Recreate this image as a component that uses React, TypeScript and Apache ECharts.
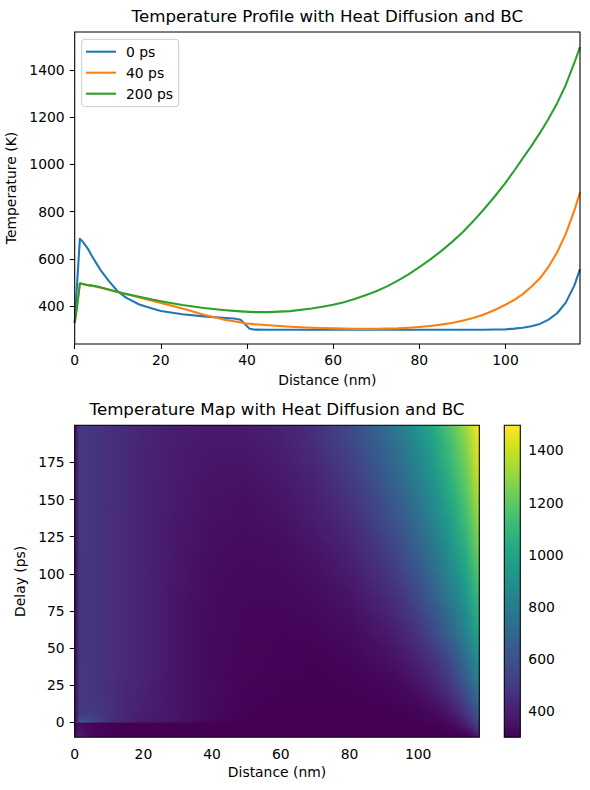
import React, { useEffect, useRef } from "react";
import * as echarts from "echarts";

const FONT = "DejaVu Sans";
const PROFILE_TITLE = "Temperature Profile with Heat Diffusion and BC";
const MAP_TITLE = "Temperature Map with Heat Diffusion and BC";
const X_LABEL = "Distance (nm)";
const T_LABEL = "Temperature (K)";
const DELAY_LABEL = "Delay (ps)";
const SERIES_NAMES = ["0 ps", "40 ps", "200 ps"];
const SERIES_COLORS = ["#1f77b4", "#ff7f0e", "#2ca02c"];

// Profile chart (top)
const PROFILE_X = [0, 0.5, 1.2, 2, 3, 4, 5, 6, 8, 10, 12, 15, 18, 20, 25, 30, 35, 37, 38.5, 39.5, 40.5, 41.5, 45, 50, 55, 57.5, 60, 62.5, 65, 67.5, 70, 72.5, 75, 77.5, 80, 82.5, 85, 87.5, 90, 92.5, 95, 97.5, 100, 102, 104, 106, 108, 110, 112, 114, 116, 117.3];
const PROFILE_0PS = [330, 478, 685, 670, 645, 612, 582, 553, 505, 462, 435, 407, 390, 380, 366, 357, 350, 348, 343, 325, 306, 301, 300, 300, 300, 300, 300, 300, 300, 300, 300, 300, 300, 300, 300, 300, 300, 300, 300, 300, 300.5, 301, 302, 305, 309, 315, 325, 343, 370, 415, 488, 557];
const PROFILE_40PS = [330, 392, 496, 493, 489, 486, 482, 478, 470, 460, 451, 437, 423, 414, 390, 364, 342, 336, 331, 328, 326, 324, 319, 313, 309, 307.5, 306, 305, 304, 304, 304, 305, 306, 308.5, 312, 316.5, 322, 329, 338, 350, 365, 384, 406, 426, 451, 482, 518, 567, 628, 706, 805, 882];
const PROFILE_200PS = [330, 392, 497, 494, 490, 487, 484, 480, 470, 460, 452, 440, 428, 421, 405, 392, 383, 380, 378, 377, 376, 375, 375, 379, 390, 397.5, 406, 417, 430, 446, 463, 484, 508, 535, 565, 597, 632, 670, 712, 759, 810, 864, 922, 972, 1025, 1077, 1133, 1193, 1259, 1336, 1430, 1496];

const PROFILE_X_MAX = 117.3;
const PROFILE_Y_MIN = 240;
const PROFILE_Y_MAX = 1560;
const PROFILE_X_TICKS = [0, 20, 40, 60, 80, 100];
const PROFILE_Y_TICKS = [400, 600, 800, 1000, 1200, 1400];

// Temperature map (bottom)
const MAP_X = [0, 1.5, 5, 10, 15, 20, 30, 40, 50, 60, 70, 80, 90, 95, 100, 105, 110, 114, 117.8];
const MAP_DELAYS = [-10, -8, -5, -1, 0, 1.5, 5, 10, 20, 30, 40, 50, 60, 70, 80, 90, 100, 110, 120, 130, 140, 150, 160, 170, 180, 190, 200];
const MAP_TEMPS = [
  [330, 400, 315, 300, 300, 300, 300, 300, 300, 300, 300, 300, 300, 300, 300, 300, 300, 300, 300],
  [330, 385, 318, 302, 300, 300, 300, 300, 300, 300, 300, 300, 300, 300, 300, 300, 300, 310, 417],
  [330, 360, 315, 303, 300, 300, 300, 300, 300, 300, 300, 300, 300, 300, 300, 300, 308, 349, 484],
  [330, 340, 310, 302, 300, 300, 300, 300, 300, 300, 300, 300, 300, 300, 300, 306, 329, 399, 550],
  [330, 685, 582, 462, 407, 380, 357, 306, 300, 300, 300, 300, 300, 300.5, 302, 312, 343, 415, 570],
  [330, 580, 545, 468, 415, 385, 358, 315, 301, 300, 300, 300, 300, 300, 303, 312, 346, 429, 580],
  [330, 520, 505, 465, 422, 392, 360, 322, 303, 300, 300, 300, 300, 302, 307, 322, 369, 465, 620],
  [330, 500, 487, 462, 428, 400, 362, 326, 306, 301, 300, 300, 302, 306, 315, 340, 406, 511, 669],
  [330, 497, 484, 461, 433, 408, 364, 328, 309, 303, 302, 302, 309, 319, 340, 385, 474, 593, 752],
  [330, 496, 483, 460, 435, 411, 364, 327, 311, 305, 304, 306, 320, 338, 370, 432, 536, 662, 822],
  [330, 495, 482, 460, 437, 414, 364, 326, 313, 306, 304, 312, 338, 365, 406, 466, 567, 706, 890],
  [330, 495, 482, 460, 437, 414, 364, 327, 315, 309, 308, 320, 353, 385, 437, 520, 635, 770, 945],
  [330, 495, 482, 460, 437, 414, 364, 327, 316, 311, 316, 330, 371, 414, 476, 567, 693, 826, 995],
  [330, 495, 482, 460, 437, 414, 364, 328, 317, 315, 321, 340, 393, 442, 513, 607, 738, 873, 1043],
  [330, 495, 482, 460, 437, 413, 364, 329, 318, 319, 329, 355, 417, 470, 549, 649, 782, 917, 1088],
  [330, 495, 482, 460, 437, 413, 365, 332, 322, 323, 336, 369, 441, 499, 581, 686, 823, 957, 1130],
  [330, 495, 482, 460, 437, 412, 367, 334, 326, 328, 346, 383, 465, 529, 616, 724, 863, 996, 1170],
  [330, 495, 482, 460, 437, 412, 369, 337, 329, 333, 355, 399, 489, 559, 647, 760, 901, 1034, 1210],
  [330, 496, 483, 460, 438, 414, 370, 341, 332, 338, 366, 416, 511, 588, 676, 794, 937, 1069, 1248],
  [330, 496, 483, 460, 438, 413, 371, 346, 337, 347, 379, 433, 539, 617, 708, 828, 971, 1103, 1285],
  [330, 496, 483, 460, 438, 414, 374, 350, 342, 355, 390, 452, 564, 644, 739, 861, 1005, 1136, 1320],
  [330, 496, 483, 460, 439, 414, 378, 353, 347, 363, 402, 472, 589, 672, 771, 892, 1038, 1169, 1355],
  [330, 496, 484, 460, 439, 415, 380, 358, 353, 371, 414, 490, 614, 698, 800, 922, 1068, 1200, 1388],
  [330, 497, 484, 460, 439, 417, 383, 362, 360, 381, 428, 508, 639, 724, 828, 951, 1099, 1229, 1420],
  [330, 497, 484, 460, 440, 418, 385, 368, 367, 391, 442, 527, 663, 748, 856, 979, 1129, 1258, 1452],
  [330, 497, 484, 460, 440, 420, 387, 373, 374, 401, 457, 545, 687, 773, 883, 1008, 1157, 1287, 1475],
  [330, 497, 484, 460, 440, 421, 392, 376, 379, 406, 463, 565, 712, 810, 922, 1051, 1193, 1336, 1496],
];
const MAP_X_MAX = 117.8;
const MAP_Y_MIN = -10;
const MAP_Y_MAX = 200;
const MAP_X_TICKS = [0, 20, 40, 60, 80, 100];
const MAP_Y_TICKS = [0, 25, 50, 75, 100, 125, 150, 175];

// Colour bar
const C_MIN = 300;
const C_MAX = 1496;
const CBAR_TICKS = [400, 600, 800, 1000, 1200, 1400];
const VIRIDIS = ["#440154", "#481a6c", "#472f7d", "#414487", "#39568c", "#31688e", "#2a788e", "#23888e", "#1f988b", "#22a884", "#35b779", "#54c568", "#7ad151", "#a5db36", "#d2e21b", "#fde725"];

// Layout
const G_PROFILE = { left: 74.7, top: 32, width: 505.3, height: 312 };
const G_MAP = { left: 74.7, top: 425.3, width: 404.6, height: 312 };
const G_CBAR = { left: 504.3, top: 425.3, width: 16, height: 312 };

function hexRgb(h: string) {
  return [parseInt(h.slice(1, 3), 16), parseInt(h.slice(3, 5), 16), parseInt(h.slice(5, 7), 16)];
}
const VIRIDIS_RGB = VIRIDIS.map(hexRgb);
function viridis(t: number) {
  const c = Math.max(0, Math.min(1, t)) * (VIRIDIS_RGB.length - 1);
  const i = Math.min(VIRIDIS_RGB.length - 2, Math.floor(c));
  const f = c - i;
  const a = VIRIDIS_RGB[i];
  const b = VIRIDIS_RGB[i + 1];
  const r = a.map((v, k) => Math.round(v + (b[k] - v) * f));
  return `rgb(${r[0]},${r[1]},${r[2]})`;
}
function tempColor(v: number) {
  return viridis((v - C_MIN) / (C_MAX - C_MIN));
}

const plainNumber = (v: number) => String(v);

function axisStyle(ticks: number[], margin: number) {
  return {
    axisLine: { show: false },
    axisTick: { show: true, inside: false, length: 4.9, lineStyle: { color: "#000", width: 1.1 }, customValues: ticks },
    axisLabel: { show: true, color: "#000", fontSize: 13.9, fontFamily: FONT, customValues: ticks, margin, formatter: plainNumber },
    splitLine: { show: false },
  };
}
const nameStyle = { fontSize: 13.9, color: "#000", fontFamily: FONT };

function frame(g: { left: number; top: number; width: number; height: number }) {
  return {
    type: "rect",
    silent: true,
    z: 100,
    shape: { x: g.left, y: g.top, width: g.width, height: g.height },
    style: { fill: "none", stroke: "#000", lineWidth: 1.1 },
  };
}
function titleText(text: string, x: number, y: number) {
  return {
    type: "text",
    silent: true,
    z: 100,
    x,
    y,
    style: {
      text,
      fontSize: 16.67,
      fontFamily: FONT,
      fill: "#000",
      textFill: "#000",
      align: "center",
      verticalAlign: "middle",
      textAlign: "center",
      textVerticalAlign: "middle",
    },
  };
}

// Gouraud-like shading of the map cells between neighbouring sampled delays
function renderMapRow(params: any, api: any) {
  const i = params.dataIndex;
  if (i >= MAP_DELAYS.length - 1) return { type: "group", children: [] };
  const tLo = MAP_DELAYS[i];
  const tHi = MAP_DELAYS[i + 1];
  const x0 = MAP_X[0];
  const x1 = MAP_X[MAP_X.length - 1];
  const pLo = api.coord([x0, tLo]);
  const pHi = api.coord([x1, tHi]);
  const left = pLo[0];
  const width = pHi[0] - pLo[0];
  const heightPx = pLo[1] - pHi[1];
  const flat = tLo < 0 && tHi >= 0;
  const steps = flat ? 1 : Math.max(1, Math.ceil(heightPx / 1.5));
  const children: any[] = [];
  for (let s = 0; s < steps; s++) {
    const f = flat ? 0 : (s + 0.5) / steps;
    const yBottom = pLo[1] - (heightPx * s) / steps;
    const yTop = pLo[1] - (heightPx * (s + 1)) / steps;
    const stops = MAP_X.map((x, j) => {
      const v = MAP_TEMPS[i][j] + (MAP_TEMPS[i + 1][j] - MAP_TEMPS[i][j]) * f;
      return { offset: (x - x0) / (x1 - x0), color: tempColor(v) };
    });
    children.push({
      type: "rect",
      shape: { x: left, y: yTop - 1.5, width, height: yBottom - yTop + 1.5 },
      style: { fill: { type: "linear", x: 0, y: 0, x2: 1, y2: 0, colorStops: stops } },
    });
  }
  return { type: "group", children };
}

export default function App() {
  const ref = useRef<HTMLDivElement>(null);
  useEffect(() => {
    if (!ref.current) return;
    const chart = echarts.init(ref.current, null, { renderer: "svg" });
    const profiles = [PROFILE_0PS, PROFILE_40PS, PROFILE_200PS];
    const gridBase = { containLabel: false, outerBoundsMode: "none" };
    const option: any = {
      animation: false,
      textStyle: { fontFamily: FONT },
      grid: [
        { ...G_PROFILE, ...gridBase },
        { ...G_MAP, ...gridBase },
        { ...G_CBAR, ...gridBase },
      ],
      xAxis: [
        {
          type: "value", gridIndex: 0, min: 0, max: PROFILE_X_MAX,
          name: X_LABEL, nameLocation: "middle", nameGap: 29, nameTextStyle: nameStyle,
          ...axisStyle(PROFILE_X_TICKS, 9.4),
        },
        {
          type: "value", gridIndex: 1, min: 0, max: MAP_X_MAX,
          name: X_LABEL, nameLocation: "middle", nameGap: 28, nameTextStyle: nameStyle,
          ...axisStyle(MAP_X_TICKS, 9.4),
        },
        { type: "value", gridIndex: 2, min: 0, max: 1, show: false },
      ],
      yAxis: [
        {
          type: "value", gridIndex: 0, min: PROFILE_Y_MIN, max: PROFILE_Y_MAX,
          name: T_LABEL, nameLocation: "middle", nameGap: 48.5, nameRotate: 90, nameTextStyle: nameStyle,
          ...axisStyle(PROFILE_Y_TICKS, 10),
        },
        {
          type: "value", gridIndex: 1, min: MAP_Y_MIN, max: MAP_Y_MAX,
          name: DELAY_LABEL, nameLocation: "middle", nameGap: 39.5, nameRotate: 90, nameTextStyle: nameStyle,
          ...axisStyle(MAP_Y_TICKS, 10),
        },
        {
          type: "value", gridIndex: 2, min: C_MIN, max: C_MAX, position: "right",
          ...axisStyle(CBAR_TICKS, 8),
        },
      ],
      legend: {
        data: SERIES_NAMES,
        orient: "vertical",
        left: 81.7,
        top: 39.3,
        padding: [4.4, 5.7, 5, 4.3],
        itemGap: 5,
        itemWidth: 30,
        itemHeight: 2.1,
        icon: "rect",
        backgroundColor: "rgba(255,255,255,0.8)",
        borderColor: "#cccccc",
        borderWidth: 1,
        borderRadius: 3,
        selectedMode: false,
        textStyle: { fontSize: 13.9, fontFamily: FONT, color: "#000", lineHeight: 16, padding: [0, 0, 0, 5] },
      },
      graphic: {
        elements: [
          titleText(PROFILE_TITLE, G_PROFILE.left + G_PROFILE.width / 2, 16.4),
          titleText(MAP_TITLE, G_MAP.left + G_MAP.width / 2, 409.9),
          frame(G_PROFILE),
          frame(G_MAP),
          frame(G_CBAR),
        ],
      },
      series: [
        ...profiles.map((vals, k) => ({
          type: "line",
          name: SERIES_NAMES[k],
          xAxisIndex: 0,
          yAxisIndex: 0,
          data: PROFILE_X.map((x, i) => [x, vals[i]]),
          symbol: "none",
          showSymbol: false,
          color: SERIES_COLORS[k],
          lineStyle: { width: 2.08, color: SERIES_COLORS[k], join: "round" },
          itemStyle: { color: SERIES_COLORS[k] },
          clip: true,
          z: 3 + k,
        })),
        {
          type: "custom",
          name: "map",
          xAxisIndex: 1,
          yAxisIndex: 1,
          clip: true,
          silent: true,
          data: MAP_DELAYS.map((t) => [0, t]),
          renderItem: renderMapRow,
        },
        {
          type: "custom",
          name: "colorbar",
          xAxisIndex: 2,
          yAxisIndex: 2,
          silent: true,
          data: [[0, C_MIN]],
          renderItem: (params: any, api: any) => {
            const p0 = api.coord([0, C_MAX]);
            const p1 = api.coord([1, C_MIN]);
            const stops = VIRIDIS.map((c, k) => ({ offset: k / (VIRIDIS.length - 1), color: c }));
            return {
              type: "rect",
              shape: { x: p0[0], y: p0[1], width: p1[0] - p0[0], height: p1[1] - p0[1] },
              style: { fill: { type: "linear", x: 0, y: 1, x2: 0, y2: 0, colorStops: stops } },
            };
          },
        },
      ],
    };
    chart.setOption(option);
    return () => chart.dispose();
  }, []);
  return <div ref={ref} style={{ position: "fixed", left: 0, top: 0, width: 590, height: 790, background: "#fff" }} />;
}
